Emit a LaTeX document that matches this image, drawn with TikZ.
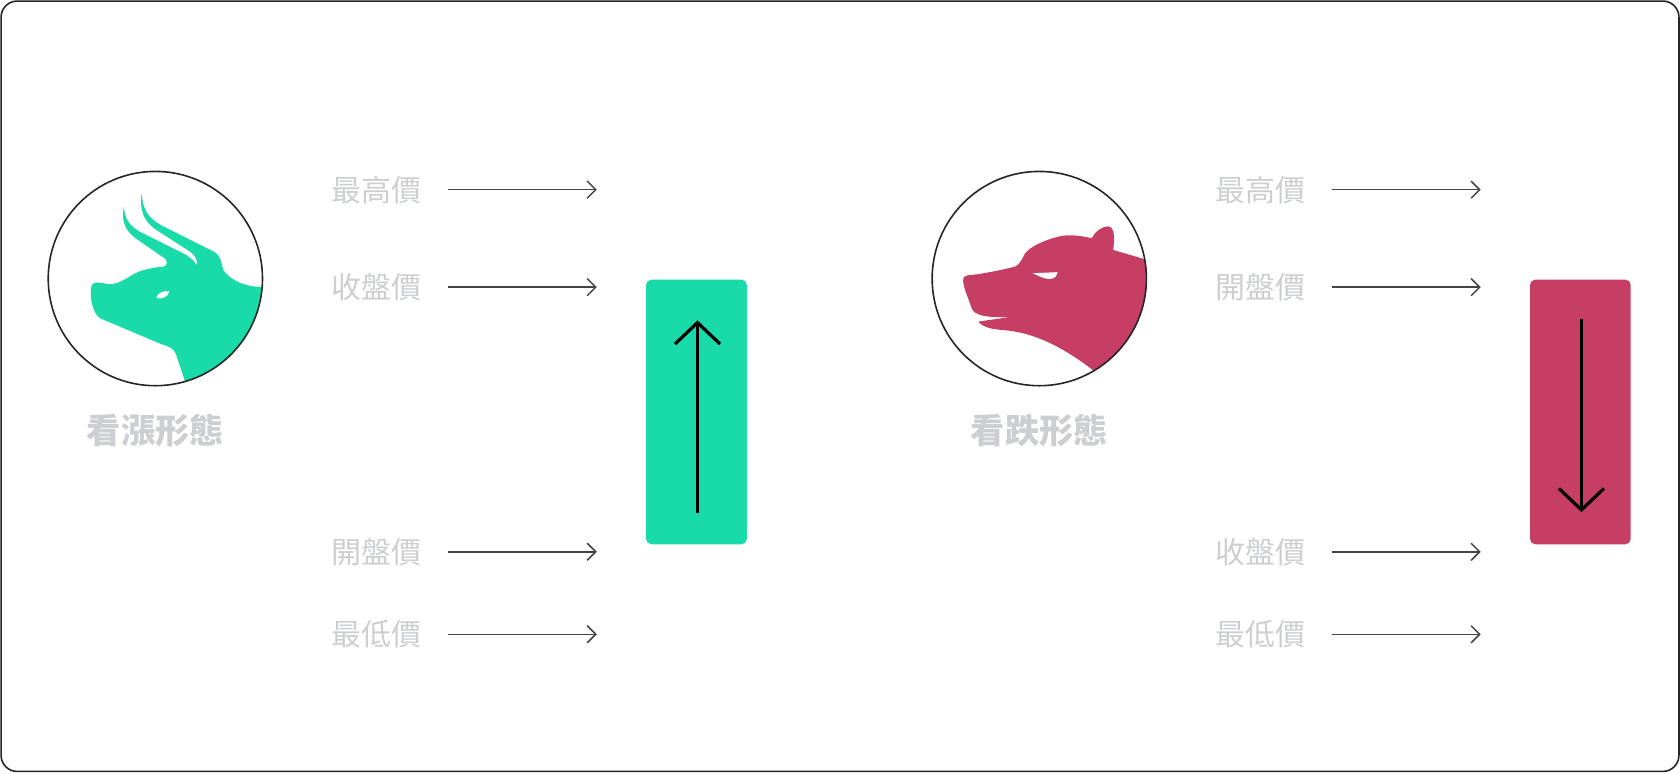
\documentclass[tikz,border=0pt]{standalone}
\usepackage{fontspec}
\newfontfamily\cjk{Noto Sans CJK TC}
\usetikzlibrary{arrows.meta}
\definecolor{bullc}{HTML}{19DBA9}
\definecolor{bearc}{HTML}{C73E64}
\definecolor{lbl}{HTML}{CDCED2}
\definecolor{arr}{HTML}{444444}
\begin{document}
\begin{tikzpicture}[x=1pt,y=-1pt,
  lab/.style={font=\cjk\fontsize{28}{30}\selectfont,text=lbl,inner sep=0pt},
  ttl/.style={font=\cjk\bfseries\fontsize{32}{34}\selectfont,text=lbl,inner sep=0pt},
  parr/.style={draw=arr,line width=1.4pt,-{Straight Barb[length=8pt,width=16pt]}},
  bigarr/.style={draw=black,line width=3pt,-{Straight Barb[length=20pt,width=42pt,line width=3pt]}},
  ring/.style={draw=black!85,line width=1.5pt}]
\useasboundingbox (0,0) rectangle (1568,721.5);
\draw[black!85,line width=1.5pt,rounded corners=15] (1,1) rectangle (1567,720);
% bull
\begin{scope}
\clip (145,260) circle (100);
\fill[bullc] (85.6,266) .. controls (83,275) and (86,292) .. (93.3,297)
  -- (150,321) .. controls (160,324) and (162,326) .. (164,330) -- (173,357)
  -- (260,357) -- (246,268) .. controls (230,268) and (215,262) .. (208.4,252)
  .. controls (206,245) and (207,240) .. (200,235) -- (150,210)
  .. controls (138,203) and (133,195) .. (132.2,180.4)
  .. controls (130,196) and (134,206) .. (145,214) -- (176,234)
  .. controls (182,238) and (185,243) .. (183.6,247.3)
  .. controls (180,242) and (175,238) .. (168,235)
  -- (130,216) .. controls (120,210) and (116,203) .. (115.7,192.9)
  .. controls (113,205) and (116,214) .. (126,222) -- (152,240)
  .. controls (158,244) and (156,248) .. (152.4,248.9)
  .. controls (140,250) and (132,252) .. (124.4,256)
  .. controls (115,262) and (108,266) .. (100,265)
  .. controls (92,263) and (88,263) .. (85.6,266) -- cycle;
\fill[white] (146,278) .. controls (147,273) and (153,271) .. (158,272) .. controls (157,277) and (151,280) .. (146,278) -- cycle;
\end{scope}
\draw[ring] (145,260) circle (100);
% bear
\begin{scope}
\clip (970,260) circle (100);
\fill[bearc] (899.1,259.8) .. controls (898,266) and (903,276) .. (906.9,287.8)
  .. controls (909,294) and (920,297) .. (942.7,295.6)
  .. controls (930,298) and (920,299) .. (913.1,300.2)
  .. controls (918,306) and (926,307) .. (934.9,308)
  .. controls (970,310) and (1000,330) .. (1022,346.9)
  -- (1075,346) -- (1071,242.7) -- (1039,233.3)
  .. controls (1040,225) and (1041,215) .. (1036,211.6)
  .. controls (1030,210) and (1022,216) .. (1019,222.4)
  .. controls (1005,219) and (995,219) .. (987.8,220.9)
  .. controls (975,224) and (962,230) .. (956.7,236.4)
  .. controls (953,244) and (951,247) .. (947.4,248.9)
  .. controls (930,253) and (915,256) .. (903,257)
  .. controls (900,258) and (899.1,259) .. (899.1,259.8) -- cycle;
\fill[white] (964,255) -- (987,254) .. controls (986,260) and (982,261) .. (976,260) .. controls (972,259) and (968,257) .. (964,255) -- cycle;
\end{scope}
\draw[ring] (970,260) circle (100);
% titles
\node[ttl] (t1) at (145,402) {看漲形態};
\node[ttl] (t2) at (970,402) {看跌形態};
% candles
\node[fill=bullc,rounded corners=5,minimum width=94,minimum height=247,inner sep=0] (c1) at (650,384.5) {};
\node[fill=bearc,rounded corners=5,minimum width=94,minimum height=247,inner sep=0] (c2) at (1475,384.5) {};
\coordinate (u1) at (651,479); \coordinate (u2) at (651,299);
\draw[bigarr] (u1) -- (u2);
\coordinate (d1) at (1476,298); \coordinate (d2) at (1476,478);
\draw[bigarr] (d1) -- (d2);
% labels left
\foreach \t/\y/\n in {最高價/177/a,收盤價/268/b,開盤價/515/c,最低價/592/d}{
  \node[lab] (l\n) at (351,\y) {\t};
  \coordinate (ls\n) at (418,\y); \coordinate (le\n) at (557,\y);
  \draw[parr] (ls\n) -- (le\n);}
\foreach \t/\y/\n in {最高價/177/a,開盤價/268/b,收盤價/515/c,最低價/592/d}{
  \node[lab] (r\n) at (1176,\y) {\t};
  \coordinate (rs\n) at (1243,\y); \coordinate (re\n) at (1382,\y);
  \draw[parr] (rs\n) -- (re\n);}
\end{tikzpicture}
\end{document}
